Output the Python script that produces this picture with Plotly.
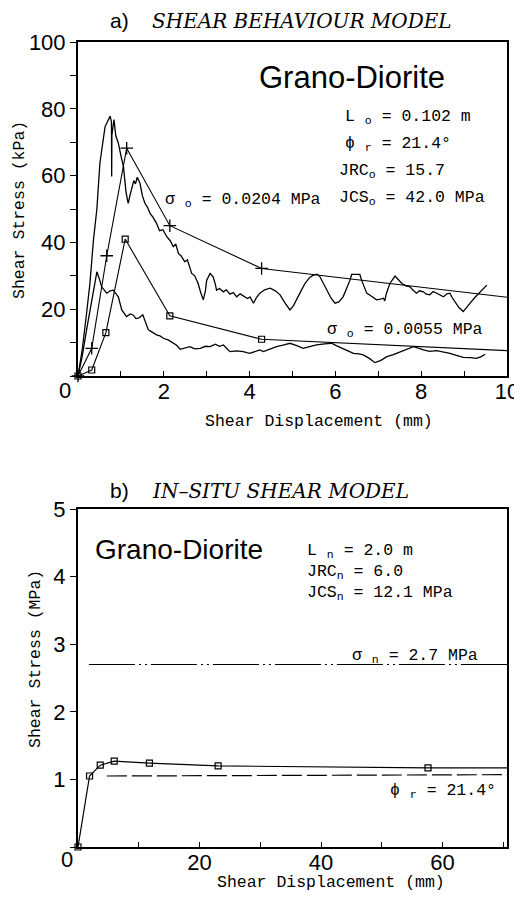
import plotly.graph_objects as go

# page body has an 8px default margin: keep the figure inside the 522x898 window
OFF = 8
W, H = 522 - OFF, 898 - OFF

# ---------------- (a) shear behaviour model: experimental traces -------------
hi_x = [0, 0.1, 0.2, 0.28, 0.36, 0.44, 0.51, 0.57, 0.63, 0.7, 0.75, 0.78, 0.785, 0.79, 0.82, 0.84,
        0.88, 0.94, 1.0, 1.06, 1.12, 1.17, 1.21, 1.25, 1.3, 1.34, 1.38, 1.445, 1.5, 1.56, 1.62, 1.68,
        1.75, 1.83, 1.9, 1.98, 2.07, 2.15, 2.22, 2.28, 2.34, 2.4, 2.49, 2.55, 2.65, 2.72, 2.8, 2.86,
        2.92, 2.97, 3.0, 3.08, 3.15, 3.2, 3.23, 3.3, 3.39, 3.46, 3.54, 3.62, 3.7, 3.78, 3.86, 3.95,
        4.01, 4.09, 4.16, 4.24, 4.35, 4.48, 4.6, 4.71, 4.82, 4.94, 5.02, 5.1, 5.2, 5.29, 5.4, 5.49,
        5.57, 5.64, 5.72, 5.8, 5.9, 5.99, 6.08, 6.18, 6.26, 6.34, 6.38, 6.57, 6.61, 6.67, 6.73, 6.85,
        6.96, 7.05, 7.12, 7.15, 7.19, 7.27, 7.33, 7.39, 7.47, 7.55, 7.64, 7.74, 7.8, 7.89, 7.96, 8.05,
        8.12, 8.2, 8.28, 8.36, 8.44, 8.52, 8.6, 8.67, 8.72, 8.79, 8.88, 8.98, 9.05, 9.14, 9.25, 9.37,
        9.45, 9.53]
hi_y = [0, 8, 18.8, 28, 40.7, 50, 63.7, 70, 74.6, 76.5, 77.8, 76, 59.7, 72, 75, 76.8,
        72, 69.7, 66, 62.7, 55, 51.7, 54, 55.7, 58.5, 57.5, 59.5, 57.7, 54, 51.7, 50.5, 48.7,
        47.5, 45.7, 43.5, 43.8, 41.7, 40.5, 38.7, 39.5, 36.7, 36, 34.2, 34.8, 30.7, 30, 27.7, 25,
        22.8, 25.5, 28.7, 30.7, 29.7, 27.5, 25.7, 26.2, 25.2, 25.8, 24.5, 25, 23.7, 24.6, 24, 23.2,
        23.7, 21.8, 23.5, 24.8, 25.8, 26.3, 25.5, 24.3, 22, 19.8, 21, 22.8, 25.5, 27.7, 29.5, 30.2,
        30.5, 29.7, 27.8, 25.7, 23.3, 21.8, 22.2, 23.7, 26, 28.7, 30.4, 30.4, 28.7, 26.5, 24.8, 23.8,
        22.8, 23, 23.3, 22.5, 24.8, 27.7, 29, 29.9, 28.8, 27.7, 27, 26.7, 25.8, 24.8, 25.5, 25.2,
        24.5, 24.3, 25.3, 24.8, 24.2, 23.7, 24.6, 24.8, 23.5, 22.2, 20.5, 19.3, 20.5, 21.8, 23.5, 25.2,
        26.3, 27.2]

lo_x = [0, 0.1, 0.2, 0.28, 0.36, 0.44, 0.5, 0.55, 0.67, 0.75, 0.82, 0.94, 1.02, 1.13, 1.22, 1.29,
        1.35, 1.41, 1.51, 1.58, 1.64, 1.72, 1.83, 1.91, 1.99, 2.1, 2.22, 2.3, 2.38, 2.5, 2.61, 2.72,
        2.85, 2.97, 3.08, 3.2, 3.3, 3.39, 3.47, 3.54, 3.7, 3.85, 4.0, 4.12, 4.24, 4.32, 4.45, 4.63,
        4.8, 4.94, 5.1, 5.25, 5.4, 5.56, 5.75, 5.91, 6.02, 6.15, 6.3, 6.42, 6.55, 6.65, 6.8, 6.92,
        7.05, 7.2, 7.35, 7.51, 7.65, 7.82, 7.95, 8.05, 8.2, 8.36, 8.5, 8.67, 8.82, 8.98, 9.15, 9.29,
        9.4, 9.49]
lo_y = [0, 6, 13.8, 19.5, 24.8, 31.2, 29, 26.7, 24.8, 25.5, 25.7, 23.7, 19.8, 17.8, 18.6, 18.2,
        17.2, 17.3, 18.3, 16, 13.8, 13.2, 12.3, 12, 11.3, 10.8, 9.8, 9.2, 8, 8.4, 8.8, 8.1,
        8.3, 8.9, 8.8, 9.5, 8.9, 9.3, 8.2, 7.3, 7.5, 7.3, 6.8, 7.2, 7.8, 7.3, 8, 8.8,
        9.3, 9.8, 9.1, 8.3, 8.8, 9.3, 9.6, 9.8, 9.1, 8.3, 7.5, 6.8, 6.6, 6.3, 5.2, 4.0,
        4.6, 5.8, 6.4, 7.3, 8.0, 8.8, 8.3, 7.8, 7.4, 7.6, 7.2, 6.8, 6.2, 5.6, 5.5, 5.3,
        5.8, 6.5]

# ---------------- (a) model curves ------------------------------------------
mod_hi_x = [0, 0.32, 0.67, 1.135, 2.14, 4.28, 10]
mod_hi_y = [0, 8.3, 36, 68.2, 45, 32.2, 23.6]
mod_lo_x = [0, 0.32, 0.65, 1.1, 2.14, 4.28, 10]
mod_lo_y = [0, 1.8, 13, 41, 18, 11, 7.6]

# ---------------- (b) in-situ shear model -----------------------------------
ins_x = [0, 1.9, 3.66, 5.96, 11.75, 23.06, 57.6, 70.6]
ins_y = [0, 1.05, 1.21, 1.27, 1.24, 1.20, 1.17, 1.17]
sig_n_x = [1.8, 70.6]
sig_n_y = [2.7, 2.7]
phi_r_x = [4.75, 70.6]
phi_r_y = [1.05, 1.07]

top_xticks = list(range(0, 11))
top_xlabels = ["" if (v % 2 or v == 0) else str(v) for v in top_xticks]
top_yticks = [0, 20, 40, 60, 80, 100]
top_ylabels = ["", "20", "40", "60", "80", "100"]
bot_xticks = list(range(0, 71, 10))
bot_xlabels = ["", "", "20", "", "40", "", "60", ""]
bot_yticks = [0, 1, 2, 3, 4, 5]
bot_ylabels = ["", "1", "2", "3", "4", "5"]

BLK = "black"
SANS = "Liberation Sans"
MONO = "Liberation Mono"
SERIF = "DejaVu Serif"


def px(x):
    return (x - OFF) / W


def py(y):
    return 1 - (y - OFF) / H


fig = go.Figure()

line = dict(color=BLK, width=1.3)
fig.add_trace(go.Scatter(x=hi_x, y=hi_y, mode="lines", line=line, xaxis="x", yaxis="y", cliponaxis=False))
fig.add_trace(go.Scatter(x=lo_x, y=lo_y, mode="lines", line=line, xaxis="x", yaxis="y", cliponaxis=False))
fig.add_trace(go.Scatter(x=mod_hi_x, y=mod_hi_y, mode="lines", line=dict(color=BLK, width=1.1),
                         xaxis="x", yaxis="y", cliponaxis=False))
fig.add_trace(go.Scatter(x=mod_hi_x[:-1], y=mod_hi_y[:-1], mode="markers",
                         marker=dict(symbol="cross-thin", size=9, line=dict(color=BLK, width=1.3)),
                         xaxis="x", yaxis="y", cliponaxis=False))
fig.add_trace(go.Scatter(x=mod_lo_x, y=mod_lo_y, mode="lines", line=dict(color=BLK, width=1.1),
                         xaxis="x", yaxis="y", cliponaxis=False))
fig.add_trace(go.Scatter(x=mod_lo_x[:-1], y=mod_lo_y[:-1], mode="markers",
                         marker=dict(symbol="square-open", size=6, color=BLK, line=dict(color=BLK, width=1.2)),
                         xaxis="x", yaxis="y", cliponaxis=False))

fig.add_trace(go.Scatter(x=ins_x, y=ins_y, mode="lines", line=dict(color=BLK, width=1.2),
                         xaxis="x2", yaxis="y2", cliponaxis=False))
fig.add_trace(go.Scatter(x=ins_x[:-1], y=ins_y[:-1], mode="markers",
                         marker=dict(symbol="square-open", size=6, color=BLK, line=dict(color=BLK, width=1.2)),
                         xaxis="x2", yaxis="y2", cliponaxis=False))
fig.add_trace(go.Scatter(x=sig_n_x, y=sig_n_y, mode="lines",
                         line=dict(color=BLK, width=1.2, dash="46px,4px,2px,4px,2px,4px"),
                         xaxis="x2", yaxis="y2", cliponaxis=False))
fig.add_trace(go.Scatter(x=phi_r_x, y=phi_r_y, mode="lines",
                         line=dict(color=BLK, width=1.2, dash="20px,5px"),
                         xaxis="x2", yaxis="y2", cliponaxis=False))

xdom = [px(78), px(507)]
tickfont = dict(family=SANS, size=22, color=BLK)
common = dict(showgrid=False, zeroline=False, showline=True, linecolor=BLK, linewidth=2,
              mirror=True, tickcolor=BLK, tickfont=tickfont, automargin=False)

fig.update_layout(
    template="none",
    width=W, height=H, autosize=False,
    margin=dict(l=0, r=0, t=0, b=0, pad=0),
    paper_bgcolor="white", plot_bgcolor="white",
    showlegend=False,
    xaxis=dict(domain=xdom, range=[0, 10], anchor="y", tickmode="array",
               tickvals=top_xticks, ticktext=top_xlabels, ticks="inside", ticklen=5, tickwidth=1.3,
               ticklabelstandoff=-5, **common),
    yaxis=dict(domain=[py(376), py(42)], range=[0, 100], anchor="x", tickmode="array",
               tickvals=top_yticks, ticktext=top_ylabels, ticks="outside", ticklen=6, tickwidth=1.3,
               minor=dict(tickvals=[10, 30, 50, 70, 90], ticks="outside", ticklen=6, tickwidth=1.3,
                          tickcolor=BLK),
               **common),
    xaxis2=dict(domain=xdom, range=[0, 70.6], anchor="y2", tickmode="array",
                tickvals=bot_xticks, ticktext=bot_xlabels, ticks="inside", ticklen=5, tickwidth=1.3,
                ticklabelstandoff=-5, **common),
    yaxis2=dict(domain=[py(847), py(509)], range=[0, 5], anchor="x2", tickmode="array",
                tickvals=bot_yticks, ticktext=bot_ylabels, ticks="outside", ticklen=6, tickwidth=1.3,
                **common),
)

ann = []


def text(s, x, y, size, family, xanchor="left", **kw):
    ann.append(dict(text=s, x=px(x), y=py(y), xref="paper", yref="paper", showarrow=False,
                    xanchor=xanchor, yanchor="middle",
                    font=dict(family=family, size=size, color=BLK), **kw))


# titles
text("a)", 108, 20, 21, SANS)
text("<i>SHEAR BEHAVIOUR MODEL</i>", 150, 21, 20, SERIF)
text("b)", 108, 490, 21, SANS)
text("<i>IN\u2013SITU SHEAR MODEL</i>", 150, 491, 20, SERIF)

# corner zeros
ann.append(dict(text="0", x=0, y=0, xref="x", yref="y", showarrow=False, xshift=-13, yshift=-14,
                font=dict(family=SANS, size=22, color=BLK)))
ann.append(dict(text="0", x=0, y=0, xref="x2", yref="y2", showarrow=False, xshift=-11, yshift=-12,
                font=dict(family=SANS, size=22, color=BLK)))

# axis titles
text("Shear Displacement (mm)", 319, 421, 16.5, MONO, xanchor="center")
text("Shear Displacement (mm)", 331, 882, 16.5, MONO, xanchor="center")
text("Shear Stress (kPa)", 20, 210, 16.5, MONO, xanchor="center", textangle=-90)
text("Shear Stress (MPa)", 35, 659, 16.5, MONO, xanchor="center", textangle=-90)

# panel a annotations
text("Grano-Diorite", 352, 77, 31, SANS, xanchor="center")
text("L <sub>o</sub> = 0.102 m", 343, 117, 16.5, MONO)
text("\u03d5 <sub>r</sub> = 21.4\u00b0", 343, 144, 16.5, MONO)
text("JRC<sub>o</sub> = 15.7", 337, 171, 16.5, MONO)
text("JCS<sub>o</sub> = 42.0 MPa", 337, 198, 16.5, MONO)
text("\u03c3 <sub>o</sub> = 0.0204 MPa", 163, 200, 16.5, MONO)
text("\u03c3 <sub>o</sub> = 0.0055 MPa", 325, 330, 16.5, MONO)

# panel b annotations
text("Grano-Diorite", 179, 549, 28, SANS, xanchor="center")
text("L <sub>n</sub> = 2.0 m", 305, 551, 16.5, MONO)
text("JRC<sub>n</sub> = 6.0", 305, 572, 16.5, MONO)
text("JCS<sub>n</sub> = 12.1 MPa", 305, 593, 16.5, MONO)
text("\u03c3 <sub>n</sub> = 2.7 MPa", 350, 656, 16.5, MONO)
text("\u03d5 <sub>r</sub> = 21.4\u00b0", 388, 791, 16.5, MONO)

fig.update_layout(annotations=ann)

fig.write_html("out.html")
